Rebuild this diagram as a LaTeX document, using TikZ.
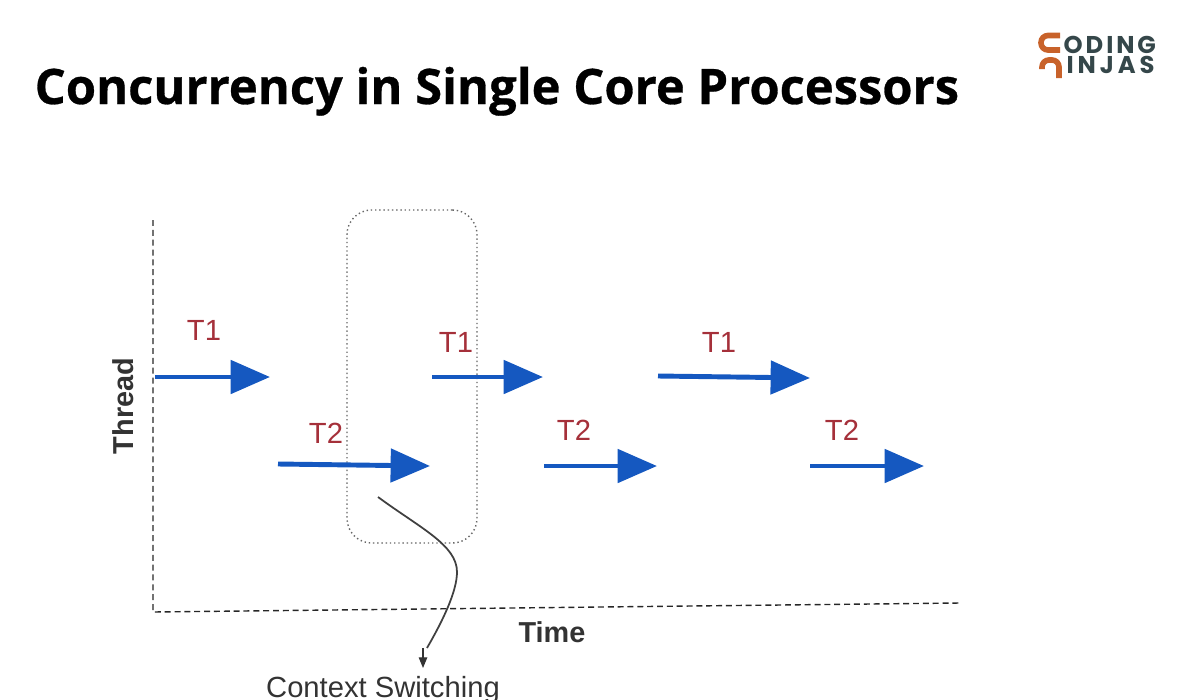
\documentclass[tikz,border=0pt]{standalone}
\usepackage{fontspec}
\setmainfont{Liberation Sans}
\newfontfamily\titlefont[BoldFeatures={FakeBold=0.6}]{Open Sans}
\newfontfamily\logofont{Poppins}
\usetikzlibrary{arrows.meta}
\definecolor{threadblue}{HTML}{1558C0}
\definecolor{labelred}{HTML}{A5303A}
\definecolor{logoorange}{HTML}{C8622A}
\definecolor{logogray}{HTML}{35474A}
\tikzstyle{run}=[threadblue,line width=1.4pt,-{Triangle[length=11.2pt,width=9.4pt]}]
\tikzstyle{tlabel}=[labelred,font=\fontsize{8.3}{9}\selectfont,inner sep=0pt]
\tikzstyle{axis}=[black!85,line width=0.4pt,dash pattern=on 1.7pt off 1.1pt]
\tikzstyle{axislabel}=[black!80,font=\fontsize{8.2}{9}\selectfont\bfseries,inner sep=0pt]
\tikzstyle{logotext}=[logogray,font=\logofont\fontsize{6.9}{7}\selectfont\bfseries,inner sep=0pt,anchor=west]
\begin{document}
\begin{tikzpicture}[x=0.01cm,y=-0.01cm]
\useasboundingbox (0,0) rectangle (1200,700);
\node[font=\titlefont\fontsize{13.9}{16}\selectfont\bfseries,inner sep=0pt,anchor=base west] at (34,104) (title) {Concurrency in Single Core Processors};
% logo
\draw[logoorange,line width=1.6pt,rounded corners=2pt] (1060,35.5) -- (1041,35.5) -- (1041,50) -- (1060,50);
\draw[logoorange,line width=1.6pt,rounded corners=2pt] (1042,69) -- (1042,60) -- (1059,60) -- (1059,78);
\node[logotext] at (1063,45) (coding) {\addfontfeature{LetterSpace=12}ODING};
\node[logotext] at (1066,64.5) (ninjas) {\addfontfeature{LetterSpace=16}INJAS};
% axes
\coordinate (top) at (153,220);
\coordinate (origin) at (153,612);
\coordinate (right) at (960,603);
\draw[axis] (top) -- (origin) -- (right);
\node[axislabel,rotate=90] at (123,406) (thread) {Thread};
\node[axislabel] at (552,632) (time) {Time};
% switching box
\node[draw=black!60,dash pattern=on 0.4pt off 0.8pt,line width=0.4pt,rounded corners=7pt,minimum width=130*0.01cm,minimum height=333*0.01cm] at (412,376.5) (switch) {};
% runs
\coordinate (a1) at (155,377); \coordinate (a2) at (270,377);
\coordinate (b1) at (278,464); \coordinate (b2) at (430,466);
\coordinate (c1) at (432,377); \coordinate (c2) at (543,377);
\coordinate (d1) at (544,466); \coordinate (d2) at (657,466);
\coordinate (e1) at (658,376); \coordinate (e2) at (810,378);
\coordinate (f1) at (810,466); \coordinate (f2) at (924,466);
\draw[run] (a1) -- (a2);
\draw[run] (b1) -- (b2);
\draw[run] (c1) -- (c2);
\draw[run] (d1) -- (d2);
\draw[run] (e1) -- (e2);
\draw[run] (f1) -- (f2);
\node[tlabel] at (204,330) (t1a) {T1};
\node[tlabel] at (456,342) (t1b) {T1};
\node[tlabel] at (719,342) (t1c) {T1};
\node[tlabel] at (326,433) (t2a) {T2};
\node[tlabel] at (574,430) (t2b) {T2};
\node[tlabel] at (842,430) (t2c) {T2};
% context switching
\node[black!80,font=\fontsize{8.3}{9}\selectfont,inner sep=0pt] at (383,690) (context) {Context Switching};
\coordinate (from) at (378,497);
\coordinate (bend) at (457,572);
\coordinate (to) at (427,648);
\coordinate (tipstart) at (423,648);
\coordinate (tipend) at (423,668);
\draw[black!75,line width=0.5pt] (from) .. controls (420,528) and (457,545) .. (bend) .. controls (457,592) and (442,622) .. (to);
\draw[black!80,line width=0.3pt,-{Triangle[length=3pt,width=2.4pt]}] (tipstart) -- (tipend);
\end{tikzpicture}
\end{document}
